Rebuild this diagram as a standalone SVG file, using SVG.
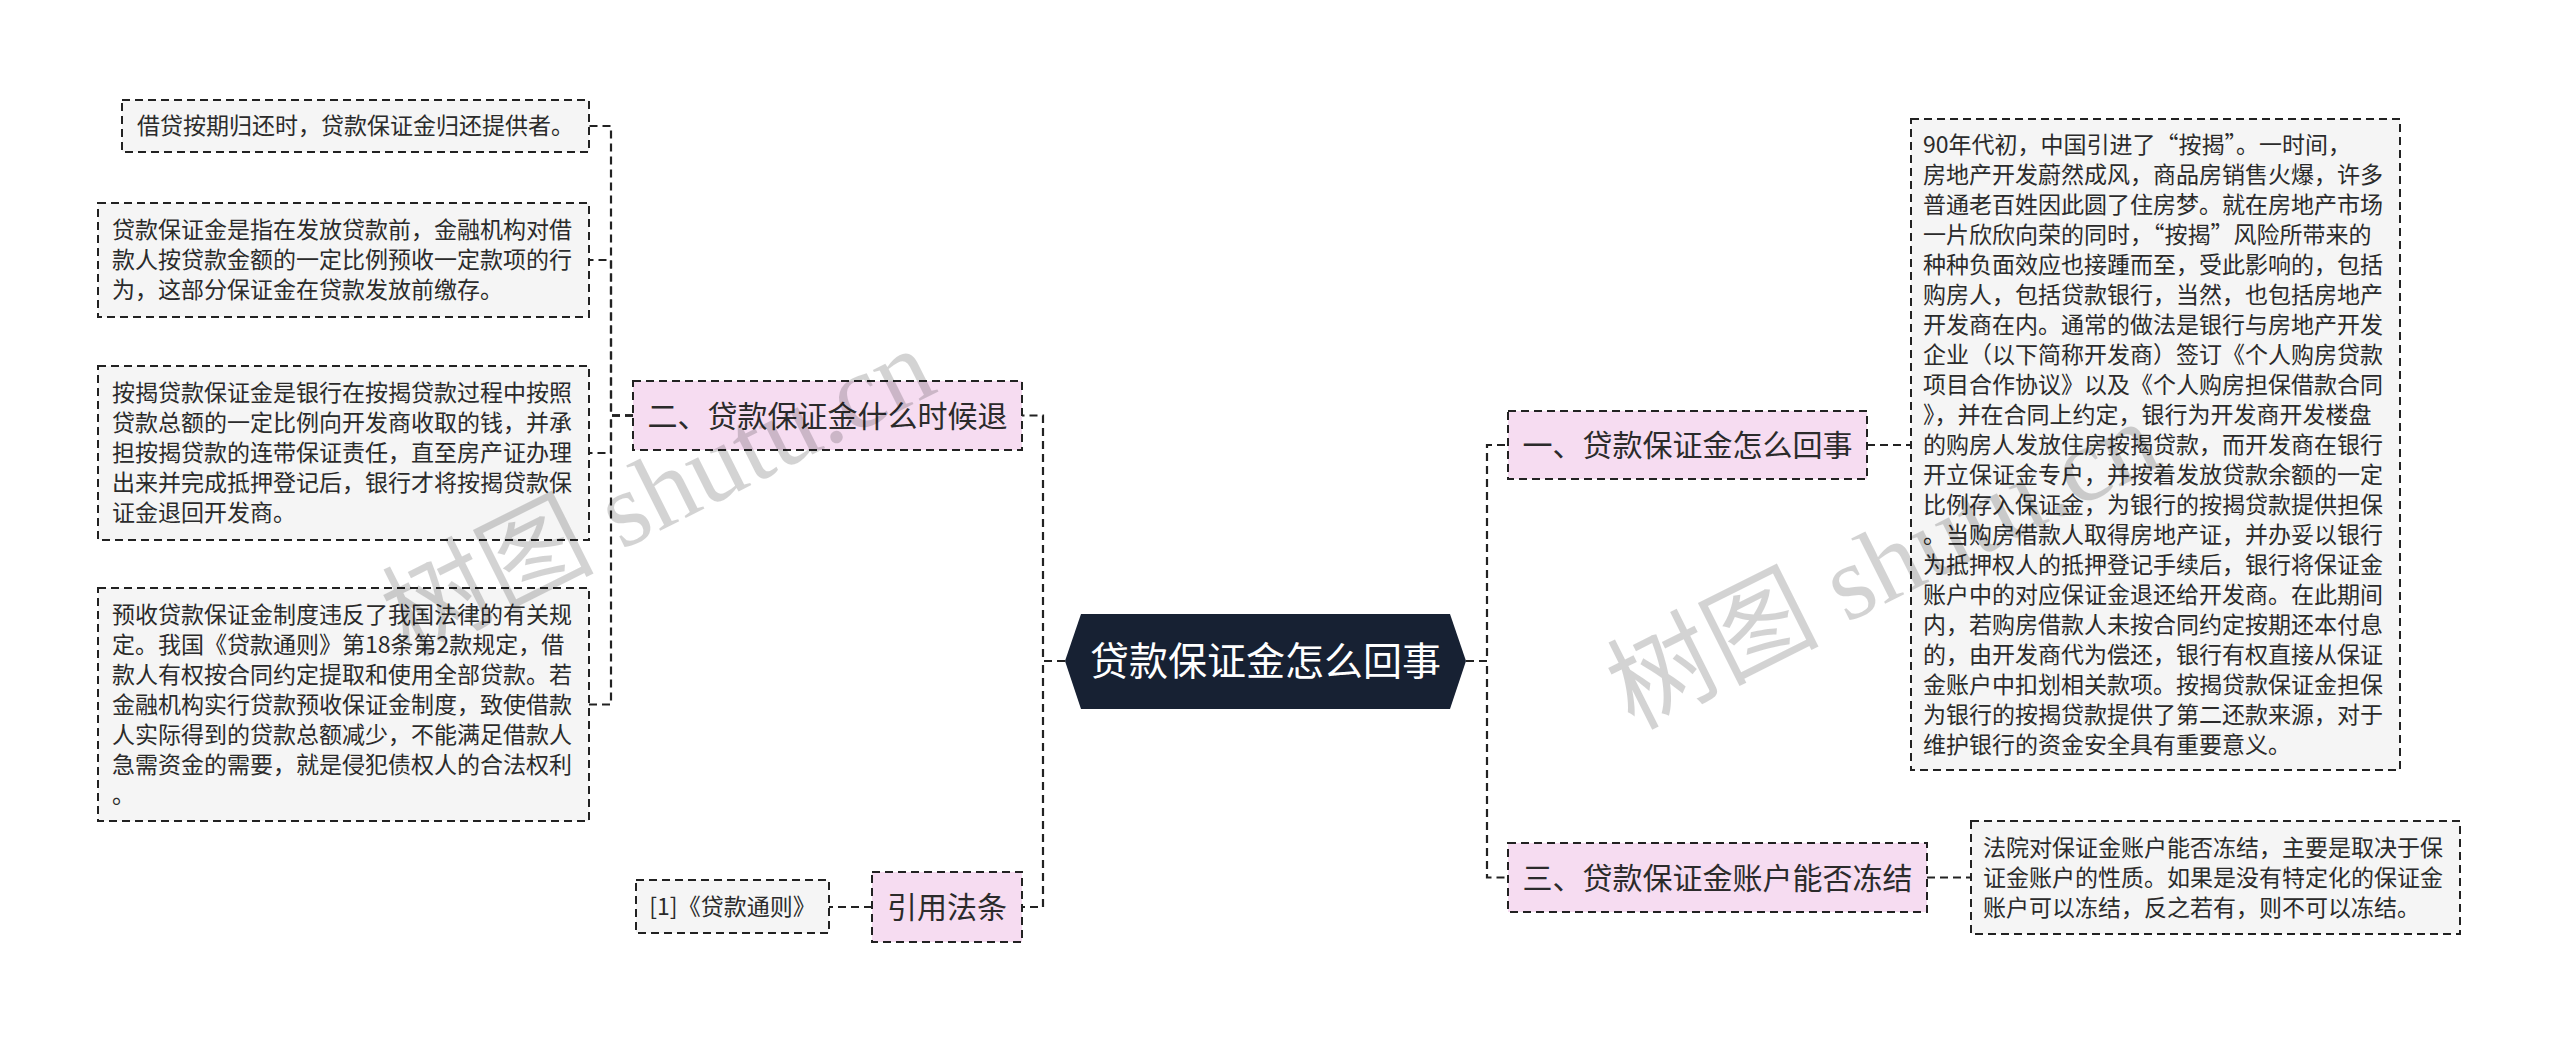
<svg xmlns="http://www.w3.org/2000/svg" width="2560" height="1042" viewBox="0 0 2560 1042">
<style>
.bg{fill:#ffffff}
.conn path{fill:none;stroke:#222;stroke-width:2.2;stroke-dasharray:8 5}
.leaf{fill:#f5f5f5;stroke:#222;stroke-width:2;stroke-dasharray:8 5}
.branch{fill:#f6dcf1;stroke:#222;stroke-width:2;stroke-dasharray:8 5}
.root{fill:#172133}
.t{font-family:"Noto Sans CJK SC","Liberation Sans",sans-serif;fill:#2b2b2b}
.lt{font-size:23px}
.bt{font-size:30px;text-anchor:middle}
.rt{font-size:39px;text-anchor:middle;fill:#ffffff}
.wm{font-size:106px;fill:#000;opacity:0.17}
.wms{font-family:"Liberation Serif",serif}
.wmc{font-family:"Noto Sans CJK SC",sans-serif}
</style>
<rect class="bg" x="0" y="0" width="2560" height="1042"/>
<g id="connectors" class="conn">
<path d="M1065,661 H1043 V415.5 H1022"/>
<path d="M1065,661 H1043 V907 H1022"/>
<path d="M1466,661 H1487 V445 H1508"/>
<path d="M1466,661 H1487 V877.5 H1508"/>
<path d="M633,415.5 H611 V126 H589"/>
<path d="M633,415.5 H611 V260 H589"/>
<path d="M633,415.5 H611 V453 H589"/>
<path d="M633,415.5 H611 V704.5 H589"/>
<path d="M872,907 H829"/>
<path d="M1867,445 H1911"/>
<path d="M1927,877.5 H1971"/>
</g>
<g id="root">
<polygon class="root" points="1081,614 1450,614 1466,661 1450,709 1081,709 1065,661"/>
<text class="t rt" x="1265.5" y="675">贷款保证金怎么回事</text>
</g>
<g id="branch-2">
<rect class="branch" x="633" y="381" width="389" height="69"/>
<text class="t bt" x="827.5" y="426.5">二、贷款保证金什么时候退</text>
</g>
<g id="branch-law">
<rect class="branch" x="872" y="872" width="150" height="70"/>
<text class="t bt" x="947" y="918">引用法条</text>
</g>
<g id="law-1">
<rect class="leaf" x="636" y="880" width="193" height="53"/>
<text class="t lt" x="732.5" y="915" text-anchor="middle">[1]《贷款通则》</text>
</g>
<g id="branch-1">
<rect class="branch" x="1508" y="411" width="359" height="68"/>
<text class="t bt" x="1687.5" y="456">一、贷款保证金怎么回事</text>
</g>
<g id="branch-3">
<rect class="branch" x="1508" y="843" width="419" height="69"/>
<text class="t bt" x="1717.5" y="888.5">三、贷款保证金账户能否冻结</text>
</g>
<g id="leaf-2-1">
<rect class="leaf" x="122" y="100" width="467" height="52"/>
<text class="t lt" x="137" y="134">借贷按期归还时，贷款保证金归还提供者。</text>
</g>
<g id="leaf-2-2">
<rect class="leaf" x="98" y="203" width="491" height="114"/>
<text class="t lt" x="112" y="238">贷款保证金是指在发放贷款前，金融机构对借</text>
<text class="t lt" x="112" y="268">款人按贷款金额的一定比例预收一定款项的行</text>
<text class="t lt" x="112" y="298">为，这部分保证金在贷款发放前缴存。</text>
</g>
<g id="leaf-2-3">
<rect class="leaf" x="98" y="366" width="491" height="174"/>
<text class="t lt" x="112" y="401">按揭贷款保证金是银行在按揭贷款过程中按照</text>
<text class="t lt" x="112" y="431">贷款总额的一定比例向开发商收取的钱，并承</text>
<text class="t lt" x="112" y="461">担按揭贷款的连带保证责任，直至房产证办理</text>
<text class="t lt" x="112" y="491">出来并完成抵押登记后，银行才将按揭贷款保</text>
<text class="t lt" x="112" y="521">证金退回开发商。</text>
</g>
<g id="leaf-2-4">
<rect class="leaf" x="98" y="588" width="491" height="233"/>
<text class="t lt" x="112" y="623">预收贷款保证金制度违反了我国法律的有关规</text>
<text class="t lt" x="112" y="653">定。我国《贷款通则》第18条第2款规定，借</text>
<text class="t lt" x="112" y="683">款人有权按合同约定提取和使用全部贷款。若</text>
<text class="t lt" x="112" y="713">金融机构实行贷款预收保证金制度，致使借款</text>
<text class="t lt" x="112" y="743">人实际得到的贷款总额减少，不能满足借款人</text>
<text class="t lt" x="112" y="773">急需资金的需要，就是侵犯债权人的合法权利</text>
<text class="t lt" x="112" y="803">。</text>
</g>
<g id="leaf-1-1">
<rect class="leaf" x="1911" y="119" width="489" height="651"/>
<text class="t lt" x="1923" y="153">90年代初，中国引进了“按揭”。一时间，</text>
<text class="t lt" x="1923" y="183">房地产开发蔚然成风，商品房销售火爆，许多</text>
<text class="t lt" x="1923" y="213">普通老百姓因此圆了住房梦。就在房地产市场</text>
<text class="t lt" x="1923" y="243">一片欣欣向荣的同时，“按揭”风险所带来的</text>
<text class="t lt" x="1923" y="273">种种负面效应也接踵而至，受此影响的，包括</text>
<text class="t lt" x="1923" y="303">购房人，包括贷款银行，当然，也包括房地产</text>
<text class="t lt" x="1923" y="333">开发商在内。通常的做法是银行与房地产开发</text>
<text class="t lt" x="1923" y="363">企业（以下简称开发商）签订《个人购房贷款</text>
<text class="t lt" x="1923" y="393">项目合作协议》以及《个人购房担保借款合同</text>
<text class="t lt" x="1923" y="423">》，并在合同上约定，银行为开发商开发楼盘</text>
<text class="t lt" x="1923" y="453">的购房人发放住房按揭贷款，而开发商在银行</text>
<text class="t lt" x="1923" y="483">开立保证金专户，并按着发放贷款余额的一定</text>
<text class="t lt" x="1923" y="513">比例存入保证金，为银行的按揭贷款提供担保</text>
<text class="t lt" x="1923" y="543">。当购房借款人取得房地产证，并办妥以银行</text>
<text class="t lt" x="1923" y="573">为抵押权人的抵押登记手续后，银行将保证金</text>
<text class="t lt" x="1923" y="603">账户中的对应保证金退还给开发商。在此期间</text>
<text class="t lt" x="1923" y="633">内，若购房借款人未按合同约定按期还本付息</text>
<text class="t lt" x="1923" y="663">的，由开发商代为偿还，银行有权直接从保证</text>
<text class="t lt" x="1923" y="693">金账户中扣划相关款项。按揭贷款保证金担保</text>
<text class="t lt" x="1923" y="723">为银行的按揭贷款提供了第二还款来源，对于</text>
<text class="t lt" x="1923" y="753">维护银行的资金安全具有重要意义。</text>
</g>
<g id="leaf-3-1">
<rect class="leaf" x="1971" y="821" width="489" height="113"/>
<text class="t lt" x="1983" y="855.5">法院对保证金账户能否冻结，主要是取决于保</text>
<text class="t lt" x="1983" y="885.5">证金账户的性质。如果是没有特定化的保证金</text>
<text class="t lt" x="1983" y="915.5">账户可以冻结，反之若有，则不可以冻结。</text>
</g>
<g id="watermarks">
<text class="wm" transform="translate(408,657) rotate(-26.6)"><tspan class="wmc">树图</tspan><tspan class="wms"> shutu.cn</tspan></text>
<text class="wm" transform="translate(1633,730) rotate(-26.6)"><tspan class="wmc">树图</tspan><tspan class="wms"> shutu.cn</tspan></text>
</g>
</svg>
